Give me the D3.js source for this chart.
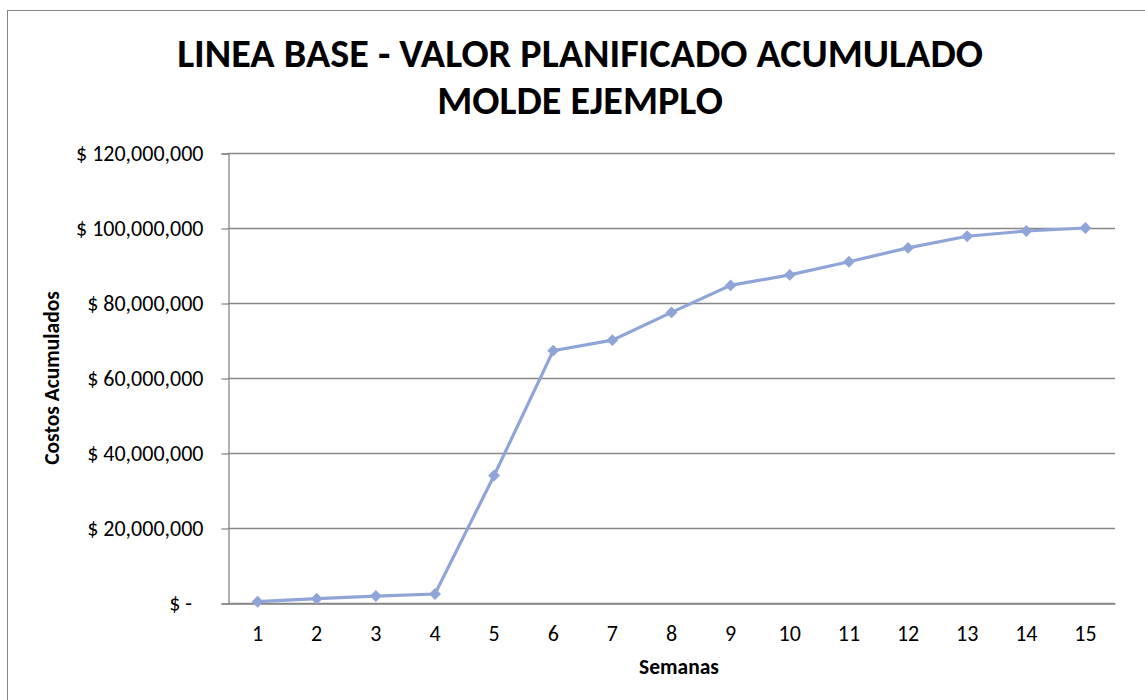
<!DOCTYPE html>
<html>
<head>
<meta charset="utf-8">
<title>Linea Base - Valor Planificado Acumulado</title>
<script src="https://cdn.jsdelivr.net/npm/d3@7"></script>
<style>
  body { margin: 0; background: #fff; }
  svg text { font-family: Carlito, Calibri, Lato, "Open Sans", sans-serif; fill: #000; }
</style>
</head>
<body>
<svg id="chart" width="1145" height="700"></svg>
<script>
// weeks and cumulative planned value
var semanas = [1, 2, 3, 4, 5, 6, 7, 8, 9, 10, 11, 12, 13, 14, 15];
var costos = [350000, 1150000, 1850000, 2400000, 34000000, 67300000, 70100000, 77500000,
              84700000, 87500000, 91000000, 94700000, 97800000, 99200000, 100000000];
var yTicks = [0, 20000000, 40000000, 60000000, 80000000, 100000000, 120000000];
var titulo = ["LINEA BASE - VALOR PLANIFICADO ACUMULADO", "MOLDE EJEMPLO"];

var svg = d3.select("#chart");
var plotL = 228, plotR = 1115, plotT = 153, plotB = 603;

// outer chart frame
svg.append("rect")
  .attr("x", 7.5).attr("y", 10.5)
  .attr("width", 1150).attr("height", 700)
  .attr("fill", "none").attr("stroke", "#868686").attr("stroke-width", 1);

var x = d3.scaleBand().domain(semanas).range([plotL, plotR]);
var y = d3.scaleLinear().domain([0, 120000000]).range([plotB, plotT]);

var fmt = function(d) { return d === 0 ? "$ -" : "$ " + d3.format(",")(d); };

// gridlines
svg.append("g")
  .selectAll("line")
  .data(yTicks)
  .enter()
  .append("line")
  .attr("x1", plotL).attr("x2", plotR)
  .attr("y1", function(d) { return Math.round(y(d)) + 0.5; })
  .attr("y2", function(d) { return Math.round(y(d)) + 0.5; })
  .attr("stroke", "#868686").attr("stroke-width", 1.3);

// y axis
var yAxis = svg.append("g")
  .attr("transform", "translate(" + (plotL + 0.5) + ",0.5)")
  .call(d3.axisLeft(y).tickValues(yTicks).tickFormat(fmt).tickSize(7).tickPadding(18));
yAxis.select(".domain").attr("stroke", "#868686").attr("stroke-width", 1.3);
yAxis.selectAll(".tick line").attr("stroke", "#868686").attr("stroke-width", 1.3);
yAxis.selectAll("text").style("font-size", "22px").attr("fill", "#000");
yAxis.selectAll(".tick").filter(function(d) { return d === 0; }).select("text")
  .attr("x", -36.5);

// x axis
var xAxis = svg.append("g")
  .attr("transform", "translate(0," + (plotB + 0.5) + ")")
  .call(d3.axisBottom(x).tickSize(0).tickPadding(22));
xAxis.select(".domain").attr("stroke", "#868686").attr("stroke-width", 1.3);
xAxis.selectAll("text").style("font-size", "22px").attr("fill", "#000");

// line
var line = d3.line()
  .x(function(d, i) { return x(semanas[i]) + x.bandwidth() / 2; })
  .y(function(d) { return y(d); });

svg.append("path")
  .datum(costos)
  .attr("d", line)
  .attr("fill", "none")
  .attr("stroke", "#8FA5D8")
  .attr("stroke-width", 3.2);

svg.append("g")
  .selectAll("path")
  .data(costos)
  .enter()
  .append("path")
  .attr("d", d3.symbol().type(d3.symbolDiamond2).size(90))
  .attr("transform", function(d, i) {
    return "translate(" + (x(semanas[i]) + x.bandwidth() / 2) + "," + y(d) + ")";
  })
  .attr("fill", "#8FA5D8");

// titles
var tituloSel = svg.append("g")
  .selectAll("text")
  .data(titulo)
  .enter()
  .append("text")
  .attr("x", 580)
  .attr("y", function(d, i) { return 67 + i * 47; })
  .attr("text-anchor", "middle")
  .style("font-size", "36px")
  .style("font-weight", "bold")
  .text(function(d) { return d; });

// fit title width to the reference (about 806px for line 1)
var w = tituloSel.nodes()[0].getComputedTextLength();
tituloSel.style("font-size", (36 * 806 / w) + "px");

svg.append("text")
  .attr("x", 679).attr("y", 674)
  .attr("text-anchor", "middle")
  .style("font-size", "21.5px").style("font-weight", "bold")
  .text("Semanas");

svg.append("text")
  .attr("transform", "translate(59,378) rotate(-90)")
  .attr("text-anchor", "middle")
  .style("font-size", "21.5px").style("font-weight", "bold")
  .text("Costos Acumulados");
</script>
</body>
</html>
